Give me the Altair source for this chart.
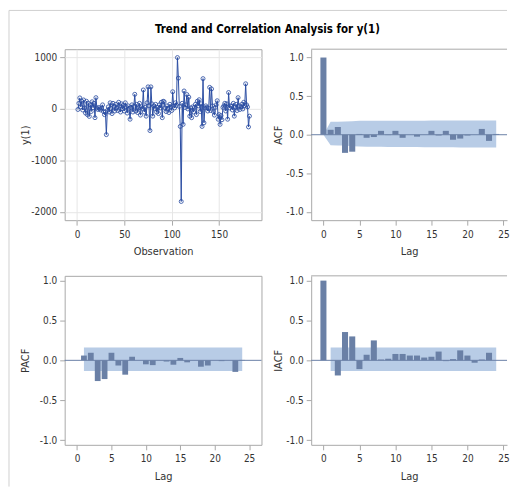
import altair as alt
import pandas as pd

# ---------------- data ----------------
y1_values = [
    -10, 110, 215, 40, 150, -20, 175, 20, -80, 150,
    -110, 110, -145, 80, -50, 140, 25, 110, -170, 220,
    20, -10, 30, 0, -20, 20, 80, -50, -110, -60,
    -500, -30, 40, -60, 120, 10, -90, 110, 50, -40,
    90, 20, -30, 130, 60, -60, 100, 0, 70, -40,
    120, 40, -80, 60, 10, -200, 30, 80, -60, 50,
    285, -40, 90, -70, 20, 110, -120, 40, 10, 370,
    -60, 30, -140, 120, 430, 60, -420, 430, 100, -140,
    60, 10, 90, -60, 30, -90, 80, 20, 130, -170,
    150, 140, 20, -50, 60, 10, -70, 90, 40, -30,
    335, 60, 20, 120, 70, 1000, 600, 50, -340, -1800,
    110, -300, 350, 30, 80, 280, 0, 230, -140, 20,
    -170, 40, -60, 30, 90, -110, 150, 60, 180, -50,
    100, -340, 590, -270, 20, 60, 30, -40, 10, 420,
    -30, 390, 60, -50, -120, 30, 80, 160, -200, -110,
    -300, -130, -210, 30, 60, 110, -40, 100, -200, 320,
    20, 60, 50, -20, 110, -140, 40, 90, -30, 220,
    60, -10, 40, 90, 0, 130, 60, 490, 80, 40,
    -350, -140,
]
observations = list(range(1, len(y1_values) + 1))

lags = list(range(0, 25))
acf_values = [1.0, 0.064, 0.10, -0.235, -0.22, 0.01, -0.04, -0.03, 0.05, -0.005,
              0.05, -0.04, 0.0, -0.025, 0.0, 0.05, -0.01, 0.05, -0.065, -0.05,
              -0.01, 0.0, 0.075, -0.08, 0.01]
acf_upper = [0.0, 0.167, 0.168, 0.170, 0.175, 0.180, 0.180, 0.180, 0.181, 0.181,
             0.181, 0.182, 0.182, 0.182, 0.182, 0.183, 0.183, 0.183, 0.183, 0.184,
             0.184, 0.184, 0.184, 0.185, 0.185]
acf_lower = [0.0, -0.137, -0.139, -0.141, -0.148, -0.154, -0.155, -0.156, -0.157, -0.158,
             -0.158, -0.159, -0.160, -0.160, -0.161, -0.161, -0.162, -0.162, -0.163, -0.164,
             -0.164, -0.165, -0.165, -0.166, -0.167]

pacf_lags = list(range(1, 25))
pacf_values = [0.06, 0.095, -0.26, -0.235, 0.095, -0.065, -0.18, 0.045, 0.0, -0.05,
               -0.06, 0.0, -0.015, -0.055, 0.03, -0.025, 0.0, -0.08, -0.065, 0.0,
               -0.01, 0.0, -0.145, 0.005]

iacf_values = [1.0, 0.0, -0.19, 0.355, 0.30, -0.11, 0.07, 0.25, 0.01, 0.02,
               0.08, 0.08, 0.06, 0.06, 0.035, 0.045, 0.11, -0.01, 0.015, 0.125,
               0.06, -0.03, 0.01, 0.095, 0.0]

band_lags = [1, 24]
band_upper = 0.16
band_lower = -0.135

# ---------------- style ----------------
FONT = "Liberation Sans Narrow, Arial Narrow, DejaVu Sans Condensed, sans-serif"
LINE_COLOR = "#2B4EA2"
BAR_COLOR = "#6A80A6"
BAND_COLOR = "#B8CCE6"
FRAME_COLOR = "#A8A8A8"
GRID_COLOR = "#E6E6E6"

neg_label = "datum.value < 0 ? '-' + format(-datum.value, '{f}') : format(datum.value, '{f}')"

lag_dom_left = [-1.8, 26.8]
lag_dom_right = [-1.7, 25.5]
LEFT_W, RIGHT_W = 198, 197


def lag_axis(domain=False):
    return alt.Axis(values=[0, 5, 10, 15, 20, 25], title="Lag", labelPadding=4,
                    titlePadding=7, domain=domain, domainColor=FRAME_COLOR)


def corr_axis(title, pad, domain=False):
    return alt.Axis(values=[-1.0, -0.5, 0.0, 0.5, 1.0], title=title,
                    labelExpr=neg_label.format(f=".1f"), minExtent=23, maxExtent=23,
                    titlePadding=pad, labelPadding=3, domain=domain, domainColor=FRAME_COLOR)


one = pd.DataFrame({"k": [0]})

# ---------------- top-left: series ----------------
ts = pd.DataFrame({"obs": observations, "y": y1_values})
xs = alt.X("obs:Q", scale=alt.Scale(domain=[-13, 194.7], nice=False, zero=False),
           axis=alt.Axis(values=[0, 50, 100, 150], title="Observation", grid=True,
                         gridColor=GRID_COLOR, labelPadding=4, titlePadding=7))
ys = alt.Y("y:Q", scale=alt.Scale(domain=[-2164, 1163], nice=False),
           axis=alt.Axis(values=[-2000, -1000, 0, 1000], title="y(1)", grid=True,
                         gridColor=GRID_COLOR, labelExpr=neg_label.format(f="d"),
                         minExtent=32, maxExtent=32, titlePadding=2.5, labelPadding=3))
ts_line = alt.Chart(ts).mark_line(color=LINE_COLOR, strokeWidth=1).encode(x=xs, y=ys)
ts_pts = alt.Chart(ts).mark_point(shape="circle", filled=False, size=16,
                                  color=LINE_COLOR, strokeWidth=1, opacity=0.85).encode(x=xs, y=ys)
frame_v = alt.Chart(one).mark_rule(color="#D0D0D0", strokeWidth=1).encode(
    x=alt.value(-56), y=alt.value(-39), y2=alt.value(440))
frame_h = alt.Chart(one).mark_rule(color="#D0D0D0", strokeWidth=1).encode(
    x=alt.value(-56), x2=alt.value(LEFT_W + 50 + RIGHT_W), y=alt.value(-39))
title = alt.Chart(one).mark_text(text="Trend and Correlation Analysis for y(1)", font=FONT,
                                 fontSize=11.5, fontWeight="bold", color="#000000",
                                 align="center", baseline="alphabetic").encode(
    x=alt.value(204), y=alt.value(-16))
top_left = alt.layer(frame_v, frame_h, title, ts_line, ts_pts).properties(
    width=LEFT_W, height=172)

# ---------------- top-right: ACF ----------------
acf_df = pd.DataFrame({"lag": lags, "acf": acf_values, "up": acf_upper, "lo": acf_lower})
acf_y_scale = alt.Scale(domain=[-1.107, 1.108], nice=False)
lag_scale_r = alt.Scale(domain=lag_dom_right, nice=False, zero=False)
lag_scale_l = alt.Scale(domain=lag_dom_left, nice=False, zero=False)

acf_band = alt.Chart(acf_df).mark_area(color=BAND_COLOR, opacity=1).encode(
    x=alt.X("lag:Q", scale=lag_scale_r, axis=lag_axis(True), title="Lag"),
    y=alt.Y("up:Q", scale=acf_y_scale, axis=corr_axis("ACF", 4.5, True), title="ACF"),
    y2="lo:Q")
acf_bars = alt.Chart(acf_df).transform_calculate(
    x1="datum.lag - 0.42", x2="datum.lag + 0.42").mark_bar(color=BAR_COLOR).encode(
    x=alt.X("x1:Q", scale=lag_scale_r, axis=lag_axis(True), title="Lag"), x2="x2:Q",
    y=alt.Y("acf:Q", scale=acf_y_scale, axis=corr_axis("ACF", 4.5, True), title="ACF"),
    y2=alt.datum(0))
acf_ref = alt.Chart(one).mark_rule(color=BAR_COLOR, strokeWidth=1).encode(y=alt.datum(0))
top_edge = alt.Chart(one).mark_rule(color=FRAME_COLOR, strokeWidth=1).encode(
    x=alt.value(0), x2=alt.value(RIGHT_W), y=alt.value(0))
top_right = alt.layer(acf_band, acf_bars, acf_ref, top_edge).properties(
    width=RIGHT_W, height=172, view=alt.ViewBackground(stroke=None))

# ---------------- bottom row ----------------
bot_y_scale = alt.Scale(domain=[-1.06, 1.06], nice=False)
band_df = pd.DataFrame({"b0": [band_lags[0]], "b1": [band_lags[1]],
                        "bu": [band_upper], "bl": [band_lower]})


def corr_panel(df, field, title, pad, width, scale, open_right):
    band = alt.Chart(band_df).mark_rect(color=BAND_COLOR, opacity=1).encode(
        x=alt.X("b0:Q", scale=scale, axis=lag_axis(open_right), title="Lag"), x2="b1:Q",
        y=alt.Y("bu:Q", scale=bot_y_scale, axis=corr_axis(title, pad, open_right), title=title),
        y2="bl:Q")
    bars = alt.Chart(df).transform_calculate(
        x1="datum.lag - 0.42", x2="datum.lag + 0.42").mark_bar(color=BAR_COLOR).encode(
        x=alt.X("x1:Q", scale=scale, axis=lag_axis(open_right), title="Lag"), x2="x2:Q",
        y=alt.Y(f"{field}:Q", scale=bot_y_scale, axis=corr_axis(title, pad, open_right),
                title=title),
        y2=alt.datum(0))
    ref = alt.Chart(one).mark_rule(color=BAR_COLOR, strokeWidth=1).encode(y=alt.datum(0))
    layers = [band, bars, ref]
    if open_right:
        layers.append(alt.Chart(one).mark_rule(color=FRAME_COLOR, strokeWidth=1).encode(
            x=alt.value(0), x2=alt.value(width), y=alt.value(0)))
        return alt.layer(*layers).properties(width=width, height=170,
                                             view=alt.ViewBackground(stroke=None))
    return alt.layer(*layers).properties(width=width, height=170)


pacf_df = pd.DataFrame({"lag": pacf_lags, "pacf": pacf_values})
iacf_df = pd.DataFrame({"lag": lags, "iacf": iacf_values})
bottom_left = corr_panel(pacf_df, "pacf", "PACF", 11.5, LEFT_W, lag_scale_l, False)
bottom_right = corr_panel(iacf_df, "iacf", "IACF", 4.5, RIGHT_W, lag_scale_r, True)

chart = alt.concat(top_left, top_right, bottom_left, bottom_right, columns=2,
                   spacing={"row": 56, "column": 50}, bounds="flush").properties(
    padding=0
).configure_axis(
    labelFont=FONT, labelFontSize=10, labelColor="#333333",
    titleFont=FONT, titleFontSize=11, titleFontWeight="normal", titleColor="#333333",
    domain=False, tickColor=FRAME_COLOR, tickSize=5, grid=False,
).configure_view(stroke=FRAME_COLOR, strokeWidth=1)

chart.save("out.html", embed_options={"renderer": "svg", "actions": False})
